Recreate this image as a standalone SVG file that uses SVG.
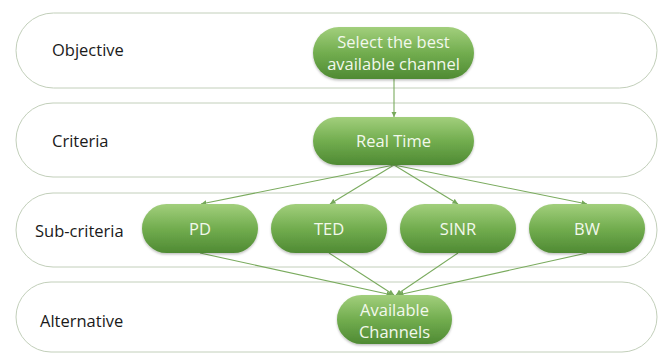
<svg xmlns="http://www.w3.org/2000/svg" width="663" height="353" viewBox="0 0 663 353">
<defs>
<linearGradient id="g" x1="0" y1="0" x2="0" y2="1">
<stop offset="0" stop-color="#a2cf7c"/>
<stop offset="0.5" stop-color="#72ad4f"/>
<stop offset="1" stop-color="#4f8a33"/>
</linearGradient>
<filter id="sh" x="-10%" y="-10%" width="120%" height="130%">
<feDropShadow dx="0" dy="1.5" stdDeviation="1.2" flood-color="#000" flood-opacity="0.25"/>
</filter>
<marker id="arr" viewBox="0 0 6 6" refX="6" refY="3" markerWidth="5" markerHeight="5" orient="auto">
<path d="M0,0 L6,3 L0,6 z" fill="#76a95a"/>
</marker>
</defs>
<style>
.band{fill:#fff;stroke:#c2cfba;stroke-width:1}
.lbl{font-family:"Open Sans","Liberation Sans",sans-serif;font-size:16.5px;fill:#1a1a1a}
.node{fill:url(#g);filter:url(#sh)}
.nt{font-family:"Open Sans","Liberation Sans",sans-serif;font-size:16.5px;fill:#f2f8ec;text-anchor:middle}
.c{stroke:#7aab5e;stroke-width:1.1;fill:none;marker-end:url(#arr)}
</style>
<g id="bands">
<rect class="band" x="16" y="13" width="641" height="75" rx="37.5"/>
<rect class="band" x="16" y="103" width="641" height="74" rx="37"/>
<rect class="band" x="16" y="193" width="641" height="74" rx="37"/>
<rect class="band" x="16" y="282" width="641" height="70" rx="35"/>
</g>
<g id="labels">
<text class="lbl" x="52" y="56">Objective</text>
<text class="lbl" x="52" y="147">Criteria</text>
<text class="lbl" x="35" y="237">Sub-criteria</text>
<text class="lbl" x="40" y="327">Alternative</text>
</g>
<g id="connectors">
<line class="c" x1="394" y1="79" x2="394" y2="117"/>
<line class="c" x1="394" y1="165" x2="201" y2="204"/>
<line class="c" x1="394" y1="165" x2="330" y2="204"/>
<line class="c" x1="394" y1="165" x2="458" y2="204"/>
<line class="c" x1="394" y1="165" x2="587" y2="204"/>
<line class="c" x1="200" y1="253" x2="392" y2="295"/>
<line class="c" x1="329" y1="253" x2="394" y2="295"/>
<line class="c" x1="458" y1="253" x2="396" y2="295"/>
<line class="c" x1="587" y1="253" x2="398" y2="295"/>
</g>
<g id="n-objective">
<rect class="node" x="313" y="27" width="161" height="52" rx="26"/>
<text class="nt" x="393.5" y="48">Select the best</text>
<text class="nt" x="393.5" y="70">available channel</text>
</g>
<g id="n-realtime">
<rect class="node" x="313" y="117" width="161" height="48" rx="24"/>
<text class="nt" x="393.5" y="147">Real Time</text>
</g>
<g id="n-pd">
<rect class="node" x="142" y="204" width="116" height="49" rx="24.5"/>
<text class="nt" x="200" y="235">PD</text>
</g>
<g id="n-ted">
<rect class="node" x="271" y="204" width="116" height="49" rx="24.5"/>
<text class="nt" x="329" y="235">TED</text>
</g>
<g id="n-sinr">
<rect class="node" x="400" y="204" width="116" height="49" rx="24.5"/>
<text class="nt" x="458" y="235">SINR</text>
</g>
<g id="n-bw">
<rect class="node" x="529" y="204" width="116" height="49" rx="24.5"/>
<text class="nt" x="587" y="235">BW</text>
</g>
<g id="n-avail">
<rect class="node" x="337" y="295" width="115" height="49" rx="24.5"/>
<text class="nt" x="394.5" y="316">Available</text>
<text class="nt" x="394.5" y="338">Channels</text>
</g>
</svg>
